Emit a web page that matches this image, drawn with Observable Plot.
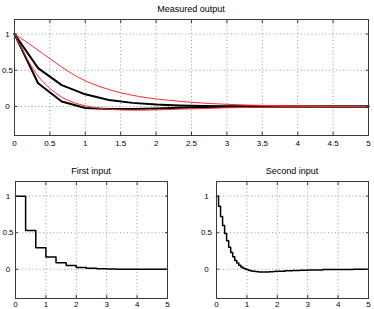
<!DOCTYPE html>
<html><head><meta charset="utf-8">
<script src="https://cdn.jsdelivr.net/npm/d3@7"></script>
<script src="https://cdn.jsdelivr.net/npm/@observablehq/plot@0.6"></script>
<style>
body{margin:0;background:#fff;}
#wrap{position:relative;width:374px;height:309px;overflow:hidden;font-family:"Liberation Sans",Arial,sans-serif;background:#fff;}
.ttl{position:absolute;font-size:9px;line-height:9px;transform:translateX(-50%);white-space:nowrap;color:#000;}
.box{position:absolute;}
</style></head><body><div id="wrap"></div>
<script>
// ---- data ----
const titles = ["Measured output", "First input", "Second input"];
const xTicksTop = [0, 0.5, 1, 1.5, 2, 2.5, 3, 3.5, 4, 4.5, 5];
const xTicksBottom = [0, 1, 2, 3, 4, 5];
const yTicks = [0, 0.5, 1];

// measured output, first channel (sampled every 1/3 s)
const measTime = [0, 0.333, 0.667, 1.0, 1.333, 1.667, 2.0, 2.333, 2.667, 3.0, 3.333, 3.667, 4.0, 4.333, 4.667, 5.0];
const measured1 = [1, 0.53, 0.295, 0.168, 0.09, 0.05, 0.026, 0.014, 0.008, 0.004, 0.002, 0.001, 0, 0, 0, 0];
// measured output, second channel
const measured2 = [1, 0.32, 0.07, -0.02, -0.035, -0.036, -0.026, -0.016, -0.009, -0.005, -0.002, -0.001, 0, 0, 0, 0];

// model output, first channel (red)
const model1Time = [0, 0.2, 0.4, 0.6, 0.8, 1.0, 1.25, 1.5, 1.75, 2.0, 2.5, 3.0, 3.5, 4.0, 4.5, 5.0];
const model1 = [1, 0.87, 0.73, 0.59, 0.46, 0.355, 0.26, 0.19, 0.14, 0.105, 0.058, 0.03, 0.015, 0.007, 0.003, 0.001];
// model output, second channel (red)
const model2Time = [0, 0.167, 0.333, 0.5, 0.667, 0.833, 1.0, 1.167, 1.333, 1.5, 1.75, 2.0, 2.5, 3.0, 3.5, 4.0, 5.0];
const model2 = [1, 0.68, 0.42, 0.25, 0.13, 0.055, 0.01, -0.02, -0.037, -0.046, -0.05, -0.046, -0.032, -0.018, -0.008, -0.003, 0];

// first input (staircase)
const input1Time = [0, 0.333, 0.667, 1.0, 1.333, 1.667, 2.0, 2.333, 2.667, 3.0, 3.333, 5.0];
const input1 = [1, 0.53, 0.295, 0.168, 0.088, 0.05, 0.023, 0.012, 0.006, 0.003, 0.001, 0];

// second input (staircase)
const input2Time = [0, 0.067, 0.133, 0.2, 0.267, 0.333, 0.4, 0.467, 0.533, 0.6, 0.667, 0.733, 0.8, 0.867, 0.933,
  1.0, 1.067, 1.133, 1.2, 1.267, 1.333, 1.4, 1.467, 1.533, 1.6, 1.667, 1.733, 1.8, 1.867, 1.933, 2.0,
  2.25, 2.5, 2.75, 3.0, 3.5, 4.0, 4.5, 5.0];
const input2 = [1, 0.86, 0.72, 0.6, 0.49, 0.39, 0.3, 0.23, 0.17, 0.12, 0.085, 0.055, 0.032, 0.015, 0.002,
  -0.008, -0.016, -0.023, -0.028, -0.032, -0.035, -0.037, -0.038, -0.038, -0.037, -0.036, -0.035, -0.033, -0.031, -0.029, -0.027,
  -0.022, -0.017, -0.013, -0.009, -0.005, -0.002, -0.001, 0];

// ---- helpers ----
const toRows = (t, v) => t.map((x, i) => ({x, y: v[i]}));
const fmt = d => String(d);
const gridStyle = {stroke: "#9a9a9a", strokeOpacity: 1, strokeDasharray: "1,2.5", strokeWidth: 1};
const frameCol = "#3a3a3a";

function panel({width, height, margins, xTicks, series, xPad, yPad}) {
  return Plot.plot({
    width, height,
    marginLeft: margins[0], marginRight: margins[1], marginTop: margins[2], marginBottom: margins[3],
    style: {fontFamily: "'Liberation Sans', Arial, sans-serif", fontSize: "8px", background: "transparent", color: "#000", overflow: "visible"},
    x: {domain: [0, 5]},
    y: {domain: [-0.4, 1.2]},
    marks: [
      Plot.gridX(xTicks.filter(d => d > 0 && d < 5), gridStyle),
      Plot.gridY(yTicks, gridStyle),
      ...series,
      Plot.frame({stroke: frameCol, strokeWidth: 1}),
      Plot.axisX({ticks: xTicks, tickSize: -3, tickPadding: xPad, tickFormat: fmt, stroke: frameCol, fill: "#000", label: null}),
      Plot.axisX({ticks: xTicks, anchor: "top", tickSize: -3, tickFormat: () => "", stroke: frameCol, label: null}),
      Plot.axisY({ticks: yTicks, tickSize: -3, tickPadding: yPad, tickFormat: fmt, textAnchor: "middle", stroke: frameCol, fill: "#000", label: null}),
      Plot.axisY({ticks: yTicks, anchor: "right", tickSize: -3, tickFormat: () => "", stroke: frameCol, label: null})
    ]
  });
}

const wrap = document.getElementById("wrap");
function place(node, left, top) {
  const d = document.createElement("div");
  d.className = "box"; d.style.left = left + "px"; d.style.top = top + "px";
  d.appendChild(node); wrap.appendChild(d);
}
function title(text, cx, top) {
  const d = document.createElement("div");
  d.className = "ttl"; d.textContent = text;
  d.style.left = cx + "px"; d.style.top = top + "px";
  wrap.appendChild(d);
}

// top panel
place(panel({
  width: 374, height: 152, margins: [14, 6, 19, 17], xTicks: xTicksTop, xPad: 8, yPad: 10,
  series: [
    Plot.line(toRows(measTime, measured1), {x: "x", y: "y", stroke: "#000", strokeWidth: 2}),
    Plot.line(toRows(measTime, measured2), {x: "x", y: "y", stroke: "#000", strokeWidth: 2}),
    Plot.line(toRows(model1Time, model1), {x: "x", y: "y", stroke: "#ff2a2a", strokeWidth: 1, curve: "catmull-rom"}),
    Plot.line(toRows(model2Time, model2), {x: "x", y: "y", stroke: "#ff2a2a", strokeWidth: 1, curve: "catmull-rom"})
  ]
}), 0, 0);

// bottom-left panel
place(panel({
  width: 180, height: 149, margins: [15, 13, 21, 11], xTicks: xTicksBottom, xPad: 6, yPad: 10.5,
  series: [
    Plot.line(toRows(input1Time, input1), {x: "x", y: "y", stroke: "#000", strokeWidth: 1.5, curve: "step-after"})
  ]
}), 0, 160);

// bottom-right panel
place(panel({
  width: 184, height: 149, margins: [26, 6, 21, 11], xTicks: xTicksBottom, xPad: 6, yPad: 13,
  series: [
    Plot.line(toRows(input2Time, input2), {x: "x", y: "y", stroke: "#000", strokeWidth: 1.5, curve: "step-after"})
  ]
}), 190, 160);

title(titles[0], 191, 5);
title(titles[1], 91, 167);
title(titles[2], 292, 167);
</script>
</body></html>
